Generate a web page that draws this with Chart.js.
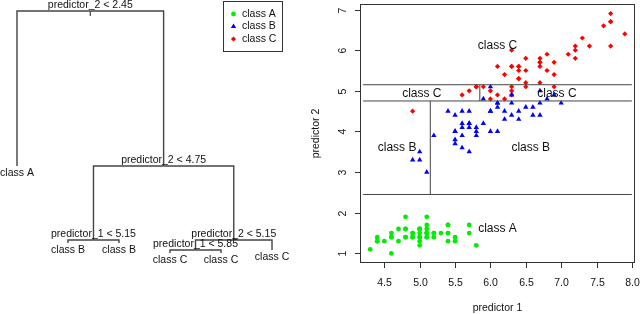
<!DOCTYPE html>
<html>
<head>
<meta charset="utf-8">
<script src="https://cdn.jsdelivr.net/npm/chart.js@4.4.0/dist/chart.umd.min.js"></script>
<style>
    html, body { margin: 0; padding: 0; background: #fff; }
    #wrap { position: relative; width: 640px; height: 314px; overflow: hidden; }
    #scatter, #tree { position: absolute; left: 0; top: 0; }
</style>
</head>
<body>
<div id="wrap">
    <canvas id="scatter" width="640" height="314"></canvas>
    <canvas id="tree" width="320" height="314"></canvas>
</div>
<script>
// === Data ===

const classNames = ['class A', 'class B', 'class C'];
const classColors = ['#00ee00', '#0000ff', '#ff0000'];
const classShapes = ['circle', 'triangle', 'rectRot'];
const classSizes = [2.4, 3.1, 2.6];

// predictor 1 / predictor 2 per class
const aX = [5.1, 4.9, 4.7, 4.6, 5.0, 5.4, 4.6, 5.0, 4.4, 4.9, 5.4, 4.8, 4.8, 4.3, 5.8, 5.7, 5.4, 5.1, 5.7, 5.1,
            5.4, 5.1, 4.6, 5.1, 4.8, 5.0, 5.0, 5.2, 5.2, 4.7, 4.8, 5.4, 5.2, 5.5, 4.9, 5.0, 5.5, 4.9, 4.4, 5.1,
            5.0, 4.5, 4.4, 5.0, 5.1, 4.8, 5.1, 4.6, 5.3, 5.0];
const aY = [1.4, 1.4, 1.3, 1.5, 1.4, 1.7, 1.4, 1.5, 1.4, 1.5, 1.5, 1.6, 1.4, 1.1, 1.2, 1.5, 1.3, 1.4, 1.7, 1.5,
            1.7, 1.5, 1.0, 1.7, 1.9, 1.6, 1.6, 1.5, 1.4, 1.6, 1.6, 1.5, 1.5, 1.4, 1.5, 1.2, 1.3, 1.4, 1.3, 1.5,
            1.3, 1.3, 1.3, 1.6, 1.9, 1.4, 1.6, 1.4, 1.5, 1.4];
const bX = [7.0, 6.4, 6.9, 5.5, 6.5, 5.7, 6.3, 4.9, 6.6, 5.2, 5.0, 5.9, 6.0, 6.1, 5.6, 6.7, 5.6, 5.8, 6.2, 5.6,
            5.9, 6.1, 6.3, 6.1, 6.4, 6.6, 6.8, 6.7, 6.0, 5.7, 5.5, 5.5, 5.8, 6.0, 5.4, 6.0, 6.7, 6.3, 5.6, 5.5,
            5.5, 6.1, 5.8, 5.0, 5.6, 5.7, 5.7, 6.2, 5.1, 5.7];
const bY = [4.7, 4.5, 4.9, 4.0, 4.6, 4.5, 4.7, 3.3, 4.6, 3.9, 3.5, 4.2, 4.0, 4.7, 3.6, 4.4, 4.5, 4.1, 4.5, 3.9,
            4.8, 4.0, 4.9, 4.7, 4.3, 4.4, 4.8, 5.0, 4.5, 3.5, 3.8, 3.7, 3.9, 5.1, 4.5, 4.5, 4.7, 4.4, 4.1, 4.0,
            4.4, 4.6, 4.0, 3.3, 4.2, 4.2, 4.2, 4.3, 3.0, 4.1];
const cX = [6.3, 5.8, 7.1, 6.3, 6.5, 7.6, 4.9, 7.3, 6.7, 7.2, 6.5, 6.4, 6.8, 5.7, 5.8, 6.4, 6.5, 7.7, 7.7, 6.0,
            6.9, 5.6, 7.7, 6.3, 6.7, 7.2, 6.2, 6.1, 6.4, 7.2, 7.4, 7.9, 6.4, 6.3, 6.1, 7.7, 6.3, 6.4, 6.0, 6.9,
            6.7, 6.9, 5.8, 6.8, 6.7, 6.7, 6.3, 6.5, 6.2, 5.9];
const cY = [6.0, 5.1, 5.9, 5.6, 5.8, 6.6, 4.5, 6.3, 5.8, 6.1, 5.1, 5.3, 5.5, 5.0, 5.1, 5.3, 5.5, 6.7, 6.9, 5.0,
            5.7, 4.9, 6.7, 4.9, 5.7, 6.0, 4.8, 4.9, 5.6, 5.8, 6.1, 6.4, 5.6, 5.1, 5.6, 6.1, 5.6, 5.5, 4.8, 5.4,
            5.6, 5.1, 5.1, 5.9, 5.7, 5.2, 5.0, 5.2, 5.4, 5.1];

const xTicks = [4.5, 5.0, 5.5, 6.0, 6.5, 7.0, 7.5, 8.0];
const yTicks = [1, 2, 3, 4, 5, 6, 7];

// partition cuts
const cutH = [2.45, 4.75, 5.15];
const cutHFrom = [4.2, 4.2, 4.2];
const cutHTo = [8.0, 8.0, 8.0];
const cutV = [5.15, 5.85];
const cutVFrom = [2.45, 4.75];
const cutVTo = [4.75, 5.15];

// region labels
const regionText = ['class A', 'class B', 'class B', 'class C', 'class C', 'class C'];
const regionX = [6.10, 4.68, 6.57, 5.03, 6.94, 6.10];
const regionY = [1.62, 3.59, 3.59, 4.93, 4.93, 6.10];

// tree (parent index, deviance height)
const treeLabels = ['predictor_2 < 2.45', 'class A', 'predictor_2 < 4.75', 'predictor_1 < 5.15', 'class B', 'class B',
                    'predictor_2 < 5.15', 'predictor_1 < 5.85', 'class C', 'class C', 'class C'];
const treeParent = [-1, 0, 0, 2, 3, 3, 2, 6, 7, 7, 6];
const treeDev = [329.6, 138.6, 138.6, 47.4, 43.7, 43.7, 47.4, 35.1, 31.4, 31.4, 35.1];
const rootStem = 6; // short tick under the root split

const FONT = '"Liberation Sans", Arial, sans-serif';
const INK = '#111';
const LINE = '#444';

// === Scatter chart ===

function toPoints(xs, ys) {
    return xs.map((v, i) => ({ x: v, y: ys[i] }));
}

const pointSets = [[aX, aY], [bX, bY], [cX, cY]].map((p, i) => ({
    data: toPoints(p[0], p[1]),
    backgroundColor: classColors[i],
    borderWidth: 0,
    pointStyle: classShapes[i],
    pointRadius: classSizes[i],
    order: 1
}));

const cutSets = [];
cutH.forEach((v, i) => cutSets.push({
    data: [{ x: cutHFrom[i], y: v }, { x: cutHTo[i], y: v }],
    showLine: true, borderColor: LINE, borderWidth: 1, pointRadius: 0, order: 0
}));
cutV.forEach((v, i) => cutSets.push({
    data: [{ x: v, y: cutVFrom[i] }, { x: v, y: cutVTo[i] }],
    showLine: true, borderColor: LINE, borderWidth: 1, pointRadius: 0, order: 0
}));

const rAxesPlugin = {
    id: 'rAxes',
    afterDraw(chart) {
        const { ctx, chartArea: a, scales: { x, y } } = chart;
        ctx.save();
        ctx.strokeStyle = '#333';
        ctx.lineWidth = 1;
        ctx.strokeRect(a.left + 0.5, a.top + 0.5, a.right - a.left - 1, a.bottom - a.top - 1);

        ctx.fillStyle = INK;
        ctx.font = '10.5px ' + FONT;
        ctx.textAlign = 'center';
        ctx.textBaseline = 'middle';

        // x axis
        xTicks.forEach(v => {
            const px = Math.round(x.getPixelForValue(v)) + 0.5;
            ctx.beginPath();
            ctx.moveTo(px, a.bottom);
            ctx.lineTo(px, a.bottom + 5);
            ctx.stroke();
            ctx.fillText(v.toFixed(1), px, 283);
        });
        ctx.fillText('predictor 1', (a.left + a.right) / 2, 308);

        // y axis
        yTicks.forEach(v => {
            const py = Math.round(y.getPixelForValue(v)) + 0.5;
            ctx.beginPath();
            ctx.moveTo(a.left - 5, py);
            ctx.lineTo(a.left, py);
            ctx.stroke();
            ctx.save();
            ctx.translate(343, py);
            ctx.rotate(-Math.PI / 2);
            ctx.fillText(String(v), 0, 0);
            ctx.restore();
        });
        ctx.save();
        ctx.translate(316, (a.top + a.bottom) / 2);
        ctx.rotate(-Math.PI / 2);
        ctx.fillText('predictor 2', 0, 0);
        ctx.restore();

        // region labels
        ctx.font = '12px ' + FONT;
        regionText.forEach((t, i) => {
            ctx.fillText(t, x.getPixelForValue(regionX[i]), y.getPixelForValue(regionY[i]));
        });

        // legend
        ctx.strokeRect(223.5, 1.5, 59, 50);
        ctx.font = '10.5px ' + FONT;
        ctx.textAlign = 'left';
        const rows = [14, 26.5, 39];
        classNames.forEach((name, i) => {
            ctx.fillStyle = classColors[i];
            Chart.helpers.drawPoint(ctx, {
                pointStyle: classShapes[i],
                radius: classSizes[i],
                rotation: 0,
                borderWidth: 0
            }, 233.5, rows[i]);
            ctx.fillStyle = INK;
            ctx.fillText(name, 242, rows[i]);
        });
        ctx.restore();
    }
};

new Chart(document.getElementById('scatter'), {
    type: 'scatter',
    data: { datasets: pointSets.concat(cutSets) },
    options: {
        responsive: false,
        animation: false,
        events: [],
        layout: { padding: { left: 360, top: 1, right: 5, bottom: 51 } },
        plugins: { legend: { display: false }, tooltip: { enabled: false } },
        scales: {
            x: { type: 'linear', min: 4.156, max: 8.044, display: false },
            y: { type: 'linear', min: 0.764, max: 7.136, display: false }
        }
    },
    plugins: [rAxesPlugin]
});

// === Tree chart ===

// leaf order gives x = 1..n, inner nodes sit midway between children
const treeX = [];
let leafCount = 0;
function placeNode(i) {
    const kids = treeParent.map((p, k) => p === i ? k : -1).filter(k => k >= 0);
    if (kids.length === 0) {
        leafCount++;
        treeX[i] = leafCount;
    } else {
        kids.forEach(placeNode);
        treeX[i] = (treeX[kids[0]] + treeX[kids[1]]) / 2;
    }
}
placeNode(0);

const treeSets = [{
    data: [{ x: treeX[0], y: treeDev[0] }, { x: treeX[0], y: treeDev[0] - rootStem }],
    showLine: true, borderColor: LINE, borderWidth: 1.2, pointRadius: 0
}];
treeParent.forEach((p, i) => {
    if (p < 0) return;
    treeSets.push({
        data: [
            { x: treeX[p], y: treeDev[p] },
            { x: treeX[i], y: treeDev[p] },
            { x: treeX[i], y: treeDev[i] }
        ],
        showLine: true, borderColor: LINE, borderWidth: 1.4, pointRadius: 0
    });
});

const treeTextPlugin = {
    id: 'treeText',
    afterDatasetsDraw(chart) {
        const { ctx, scales: { x, y } } = chart;
        ctx.save();
        ctx.font = '10.5px ' + FONT;
        ctx.fillStyle = INK;
        ctx.textAlign = 'center';
        treeLabels.forEach((label, i) => {
            const px = x.getPixelForValue(treeX[i]);
            const py = y.getPixelForValue(treeDev[i]);
            const isLeaf = !treeParent.includes(i);
            if (isLeaf) {
                ctx.textBaseline = 'top';
                ctx.fillText(label, px, py + 1.5);
            } else {
                ctx.textBaseline = 'alphabetic';
                ctx.fillText(label, px, py - 3);
            }
        });
        ctx.restore();
    }
};

new Chart(document.getElementById('tree'), {
    type: 'scatter',
    data: { datasets: treeSets },
    options: {
        responsive: false,
        animation: false,
        events: [],
        layout: { padding: 0 },
        plugins: { legend: { display: false }, tooltip: { enabled: false } },
        scales: {
            x: { type: 'linear', min: 0.667, max: 6.941, display: false },
            y: { type: 'linear', min: -43.8, max: 343.2, display: false }
        }
    },
    plugins: [treeTextPlugin]
});
</script>
</body>
</html>
